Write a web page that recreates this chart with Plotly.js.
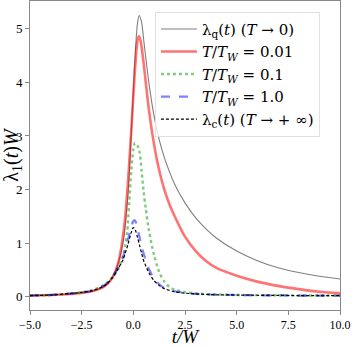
<!DOCTYPE html>
<html><head><meta charset="utf-8">
<script src="https://cdn.plot.ly/plotly-3.0.1.min.js"></script>
<style>body{margin:0;padding:0;background:#fff}#c{width:354px;height:347px}</style>
</head><body><div id="c"></div>
<script>
// λ_q(t) (T→0)
const tQ = [-5,-4,-3,-2.5,-2,-1.5,-1.25,-1,-0.75,-0.5,-0.25,-0.1,0,0.1,0.2,0.28,0.4,0.5,0.75,1,1.25,1.5,1.75,2,2.5,3,3.5,4,5,6,7,8,9,10];
const vQ = [0.02,0.03,0.05,0.07,0.1,0.17,0.24,0.37,0.6,1.0,1.95,3.05,3.85,4.6,5.1,5.25,5.12,4.8,4.0,3.38,2.93,2.6,2.33,2.1,1.75,1.48,1.27,1.1,0.85,0.67,0.54,0.45,0.38,0.33];
// T/T_W = 0.01
const tR = [-5,-4,-3,-2.5,-2,-1.5,-1.25,-1,-0.75,-0.56,-0.4,-0.25,-0.1,0,0.1,0.2,0.27,0.35,0.5,0.75,1,1.25,1.5,1.75,2,2.25,2.5,3,3.5,4,5,6,7,8,9,10];
const vR = [0.02,0.03,0.05,0.07,0.1,0.17,0.24,0.36,0.6,0.97,1.45,2.2,3.1,3.75,4.35,4.78,4.86,4.78,4.35,3.5,2.85,2.36,2.0,1.72,1.5,1.3,1.12,0.86,0.67,0.54,0.39,0.28,0.2,0.14,0.09,0.06];
// T/T_W = 0.1
const tG = [-5,-4,-3,-2.5,-2,-1.5,-1.25,-1,-0.75,-0.5,-0.4,-0.3,-0.2,-0.1,0,0.08,0.2,0.3,0.4,0.5,0.6,0.75,1,1.25,1.5,1.75,2,2.5,3,4,5,6,7,8,9,10];
const vG = [0.02,0.03,0.06,0.08,0.12,0.2,0.27,0.37,0.5,0.75,0.95,1.2,1.75,2.35,2.75,2.87,2.82,2.7,2.35,1.95,1.65,1.25,0.78,0.46,0.28,0.18,0.13,0.085,0.06,0.04,0.03,0.028,0.025,0.022,0.02,0.02];
// T/T_W = 1.0
const tB = [-5,-4,-3,-2.5,-2,-1.5,-1.25,-1,-0.75,-0.5,-0.25,-0.1,0,0.05,0.1,0.2,0.3,0.4,0.5,0.75,1,1.25,1.5,2,2.5,3,4,5,6,7,8,9,10];
const vB = [0.02,0.03,0.06,0.08,0.11,0.19,0.26,0.37,0.53,0.74,1.07,1.32,1.41,1.43,1.41,1.28,1.11,0.95,0.8,0.52,0.34,0.23,0.16,0.1,0.07,0.05,0.035,0.03,0.025,0.022,0.02,0.02,0.018];
// λ_c(t) (T→+∞)
const tC = [-5,-4,-3,-2.5,-2,-1.5,-1.25,-1,-0.75,-0.5,-0.25,-0.1,0,0.1,0.2,0.3,0.4,0.5,0.75,1,1.25,1.5,2,2.5,3,4,5,6,7,8,9,10];
const vC = [0.02,0.03,0.06,0.08,0.11,0.18,0.25,0.36,0.51,0.69,0.99,1.2,1.29,1.24,1.11,0.96,0.81,0.67,0.45,0.3,0.21,0.15,0.09,0.065,0.05,0.035,0.03,0.025,0.022,0.02,0.02,0.018];

const names = [
  "λ<sub>q</sub>(<i>t</i>) (<i>T</i> → 0)",
  "<i>T</i>/<i>T</i><sub><i>W</i></sub> = 0.01",
  "<i>T</i>/<i>T</i><sub><i>W</i></sub> = 0.1",
  "<i>T</i>/<i>T</i><sub><i>W</i></sub> = 1.0",
  "λ<sub>c</sub>(<i>t</i>) (<i>T</i> → + ∞)"
];
const F = "Liberation Serif, DejaVu Serif, serif";
const FL = "DejaVu Serif, Liberation Serif, serif";
const sp = {shape:'spline', smoothing:0.8};
const traces = [
  {x:tQ, y:vQ, name:names[0], line:Object.assign({color:'#7f7f7f', width:1.1}, sp), legendgroup:'a'},
  {x:tR, y:vR, name:names[1], line:Object.assign({color:'rgba(255,0,0,0.55)', width:2.6}, sp), legendgroup:'b'},
  {x:tG, y:vG, name:names[2], line:Object.assign({color:'rgba(0,150,0,0.5)', width:2.4, dash:'dot'}, sp), legendgroup:'c'},
  {x:tB, y:vB, name:names[3], line:Object.assign({color:'rgba(0,0,255,0.5)', width:2.2, dash:'dash'}, sp), legendgroup:'d'},
  {x:tC, y:vC, name:names[4], line:Object.assign({color:'#000000', width:1.2, dash:'3px,2px'}, sp), legendgroup:'e'}
].map(t => Object.assign({type:'scatter', mode:'lines', hoverinfo:'skip'}, t));

const layout = {
  width:354, height:347,
  margin:{l:30, r:14, t:1, b:37},
  paper_bgcolor:'#fff', plot_bgcolor:'#fff',
  font:{family:F, size:12, color:'#000'},
  showlegend:true,
  legend:{x:0.403, y:0.965, xanchor:'left', yanchor:'top', bgcolor:'rgba(255,255,255,0.8)',
          bordercolor:'#e0e0e0', borderwidth:1, font:{family:FL, size:15},
          tracegroupgap:0, traceorder:'grouped', itemwidth:36},
  xaxis:{range:[-5,10], tickvals:[-5,-2.5,0,2.5,5,7.5,10], ticktext:['−5.0','−2.5','0.0','2.5','5.0','7.5','10.0'],
         showgrid:false, zeroline:false, showline:true, linecolor:'#888', linewidth:1, mirror:true,
         ticks:'outside', ticklen:4, tickcolor:'#888', tickfont:{family:F, size:12},
         title:{text:'t/W', font:{family:F, size:19, style:'italic'}, standoff:7}},
  yaxis:{range:[-0.25,5.52], tickvals:[0,1,2,3,4,5], ticktext:['0','1','2','3','4','5'],
         showgrid:false, zeroline:false, showline:true, linecolor:'#888', linewidth:1, mirror:true,
         ticks:'outside', ticklen:4, tickcolor:'#888', tickfont:{family:F, size:13},
         title:{text:'λ<sub>1</sub>(<i>t</i>)<i>W</i>', font:{family:F, size:20}, standoff:1}}
};
Plotly.newPlot('c', traces, layout, {staticPlot:true, displayModeBar:false});
</script></body></html>
